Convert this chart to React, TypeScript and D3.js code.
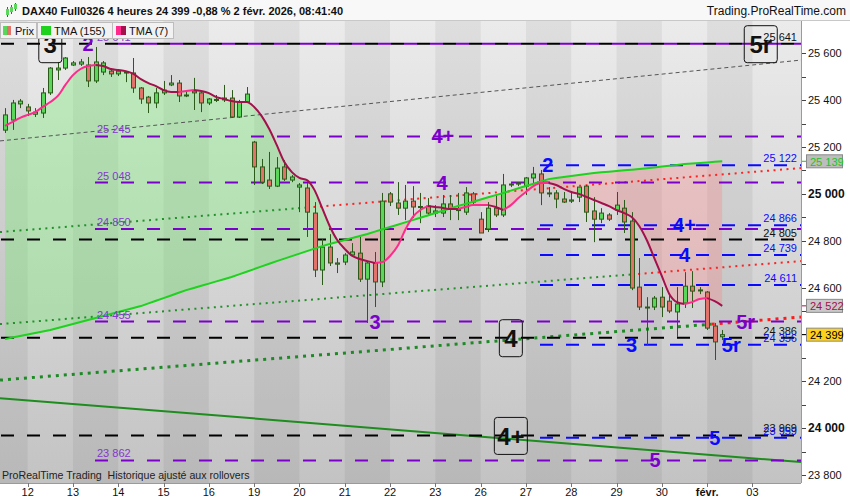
import React from 'react'
import * as d3 from 'd3'

const W = 850
const H = 500
const plotRight = 801
const plotTop = 21
const plotBottom = 483

const dayLabels = ['12', '13', '14', '15', '16', '19', '20', '21', '22', '23', '26', '27', '28', '29', '30', 'févr.', '03']

// 4h candles, 6 per day
const opens = [
    25272, 25315, 25384, 25371, 25340, 25345, 25431, 25529, 25537, 25550, 25554, 25550, 25482, 25520, 25524, 25512,
    25520, 25516, 25452, 25413, 25388, 25431, 25465, 25473, 25420, 25439, 25431, 25388, 25401, 25401, 25409, 25328,
    25392, 25221, 25115, 25059, 25033, 25115, 25059, 25029, 25025, 24918, 24675, 24773, 24700, 24709, 24739, 24747,
    24636, 24705, 24624, 25000, 24961, 24939, 24969, 24944, 24948, 24918, 24918, 24957, 24931, 24922, 25000, 24892,
    24850, 24939, 24910, 25042, 25046, 25033, 25068, 25085, 25004, 25004, 24978, 24969, 24986, 25033, 24927, 24892,
    24910, 24931, 24939, 24884, 24602, 24517, 24517, 24559, 24542, 24496, 24534, 24606, 24590, 24581, 24436, 24390,
]
const highs = [
    25366, 25401, 25405, 25384, 25366, 25452, 25541, 25563, 25584, 25567, 25576, 25584, 25627, 25567, 25537, 25533,
    25524, 25580, 25456, 25418, 25452, 25482, 25507, 25486, 25443, 25495, 25435, 25409, 25422, 25465, 25443, 25401,
    25456, 25226, 25149, 25179, 25157, 25144, 25080, 25046, 25046, 24965, 24807, 24828, 24726, 24747, 24790, 24816,
    24709, 24752, 25004, 25008, 25050, 25038, 25033, 25004, 24982, 24952, 24995, 24995, 25004, 25029, 25008, 24922,
    24965, 24995, 25085, 25050, 25050, 25072, 25115, 25102, 25029, 25016, 25008, 25004, 25029, 25038, 24986, 24939,
    24918, 25008, 24974, 24922, 24726, 24559, 24564, 24602, 24568, 24602, 24666, 24670, 24602, 24585, 24449, 24419,
]
const lows = [
    25260, 25273, 25366, 25332, 25328, 25324, 25422, 25486, 25529, 25546, 25546, 25456, 25473, 25507, 25499, 25503,
    25477, 25431, 25384, 25345, 25366, 25422, 25460, 25392, 25413, 25358, 25349, 25379, 25392, 25392, 25324, 25324,
    25392, 25038, 25042, 25021, 25029, 25055, 25050, 24922, 24816, 24645, 24611, 24692, 24662, 24696, 24735, 24624,
    24449, 24517, 24602, 24948, 24910, 24888, 24897, 24875, 24910, 24901, 24901, 24888, 24888, 24910, 24957, 24833,
    24837, 24901, 24901, 25029, 25033, 24995, 25046, 24952, 24986, 24939, 24961, 24961, 24965, 24880, 24794, 24875,
    24884, 24910, 24833, 24589, 24504, 24355, 24504, 24474, 24491, 24389, 24513, 24513, 24572, 24419, 24291, 24376,
]
const closes = [
    25337, 25388, 25396, 25354, 25349, 25431, 25537, 25537, 25580, 25559, 25563, 25482, 25563, 25559, 25512, 25524,
    25516, 25452, 25405, 25388, 25431, 25443, 25473, 25418, 25422, 25431, 25388, 25405, 25403, 25409, 25328, 25392,
    25426, 25115, 25050, 25033, 25110, 25063, 25072, 25038, 24922, 24675, 24773, 24705, 24705, 24739, 24752, 24636,
    24705, 24624, 24969, 24965, 24939, 24969, 24944, 24946, 24918, 24927, 24957, 24935, 24933, 25004, 24965, 24833,
    24939, 24910, 25038, 25040, 25042, 25068, 25085, 25004, 25002, 24978, 24965, 24974, 25029, 24922, 24892, 24918,
    24892, 24952, 24880, 24598, 24517, 24515, 24555, 24517, 24500, 24530, 24606, 24585, 24589, 24427, 24368, 24399,
]

// TMA (7), one value per candle
const tma7 = [
    25290, 25307, 25324, 25337, 25349, 25371, 25392, 25418, 25465, 25507, 25533, 25546, 25550, 25546, 25533, 25529,
    25524, 25512, 25490, 25473, 25460, 25443, 25435, 25435, 25439, 25443, 25439, 25430, 25413, 25405, 25396, 25392,
    25392, 25371, 25332, 25277, 25208, 25136, 25093, 25068, 25059, 25016, 24940, 24863, 24803, 24765, 24735, 24722,
    24713, 24705, 24709, 24735, 24777, 24846, 24901, 24931, 24948, 24944, 24940, 24935, 24935, 24944, 24952, 24952,
    24952, 24944, 24931, 24952, 24982, 25008, 25033, 25046, 25046, 25038, 25021, 25008, 25000, 24987, 24974, 24961,
    24948, 24931, 24918, 24901, 24863, 24803, 24726, 24649, 24572, 24538, 24530, 24538, 24551, 24555, 24542, 24522,
]

// TMA (155), read once per day
const tma155Idx = [0, 6, 12, 18, 24, 30, 36, 42, 48, 54, 60, 66, 72, 78, 84, 90, 95]
const tma155 = [24380, 24419, 24470, 24521, 24589, 24645, 24713, 24777, 24829, 24888, 24948, 25004, 25063, 25089, 25106, 25127, 25139]

const blackLevels = [25641, 24805, 24386, 23969]
const purpleLevels = [25641, 25245, 25048, 24850, 24455, 23862]
const blueLevels = [25122, 24866, 24739, 24611, 24356, 23959]

// trendlines: price at left edge, price at right edge
const grayTrend = [25226, 25571]
const dotTrendHigh = [24837, 25110]
const dotTrendLow = [24444, 24713]
const dotTrendThick = [24205, 24474]
const greenTrend = [24128, 23855]

const purpleWaves = [['2', 11, 25641], ['4+', 58, 25245], ['4', 57.9, 25048], ['3', 49, 24455], ['5r', 98.1, 24455], ['5', 86.1, 23862]]
const blueWaves = [['2', 71.9, 25122], ['4+', 90, 24866], ['4', 90, 24739], ['3', 83, 24356], ['5r', 96.2, 24356], ['5', 94, 23959]]
const boxWaves = [['3', 6, 25641], ['4', 67, 24386], ['4+', 67, 23969], ['5r', 100.1, 25641]]

const PURPLE = '#7c00cc'
const BLUE = '#0a0aff'
const WICK = '#2b5a1a'
const UP = '#5ad65a'
const DOWN = '#e2736b'
const PINK = '#ff2a8c'
const CRIMSON = '#a3104c'
const FONT = '"Liberation Sans", Arial, sans-serif'

const fmt = (v: number) => d3.format(',')(v).replace(/,/g, ' ')

export default function App() {
    const n = opens.length
    const x = d3.scaleLinear().domain([0, 95]).range([5, 722.25])
    const y = d3.scaleLinear().domain([23800, 25600]).range([475, 53.3])
    const iLeft = x.invert(0)
    const iRight = x.invert(plotRight)
    const idx = d3.range(n)
    const lastClose = closes[n - 1]

    const slow = d3.scaleLinear().domain(tma155Idx).range(tma155)
    const fillData = idx.map((i) => ({ i, a: tma7[i], b: slow(i) }))
    const aboveB = d3.area<any>().x((d) => x(d.i)).y0(plotTop).y1((d) => y(d.b))(fillData) as string
    const belowB = d3.area<any>().x((d) => x(d.i)).y0(plotBottom).y1((d) => y(d.b))(fillData) as string
    const greenFill = d3.area<any>().x((d) => x(d.i)).y0(plotBottom).y1((d) => y(d.a))(fillData) as string
    const redFill = d3.area<any>().x((d) => x(d.i)).y0(plotTop).y1((d) => y(d.a))(fillData) as string
    const slowLine = d3.line<any>().x((d) => x(d.i)).y((d) => y(d.b))(fillData) as string

    // TMA7 split into rising / falling runs
    const runs: { up: boolean; pts: number[] }[] = []
    let cur = { up: tma7[1] >= tma7[0], pts: [0] }
    for (let i = 1; i < n; i++) {
        const up = tma7[i] > tma7[i - 1] ? true : tma7[i] < tma7[i - 1] ? false : cur.up
        if (up === cur.up) cur.pts.push(i)
        else {
            runs.push(cur)
            cur = { up, pts: [i - 1, i] }
        }
    }
    runs.push(cur)
    const fastLine = d3.line<number>().x((i) => x(i)).y((i) => y(tma7[i])).curve(d3.curveMonotoneX)

    const bounds = d3.range(-1, 18).map((k) => x(3 + 6 * k))

    const trend = (t: number[]) => ({ x1: 0, y1: y(t[0]), x2: plotRight, y2: y(t[1]) })
    const trendSplit = (t: number[], at: number) => {
        const v = d3.scaleLinear().domain([iLeft, iRight]).range(t)
        return [
            { x1: 0, y1: y(t[0]), x2: x(at), y2: y(v(at)) },
            { x1: x(at), y1: y(v(at)), x2: plotRight, y2: y(t[1]) },
        ]
    }
    const hi = trendSplit(dotTrendHigh, 40)
    const lo = trendSplit(dotTrendLow, 83)
    const th = trendSplit(dotTrendThick, 93.6)

    // the 24 400 label sits under the last-price badge
    const priceTicks = d3.range(23800, 25700, 100)

    return (
        <div>
            <style>{'body{margin:0}'}</style>
            <svg width={W} height={H} style={{ display: 'block', fontFamily: FONT }}>
                <defs>
                    <linearGradient id='bg' x1='0' y1='0' x2='0' y2='1'>
                        <stop offset='0' stopColor='#ebebeb' />
                        <stop offset='1' stopColor='#c3c3c3' />
                    </linearGradient>
                    <clipPath id='plot'>
                        <rect x={0} y={plotTop} width={plotRight} height={plotBottom - plotTop} />
                    </clipPath>
                    <clipPath id='aboveB'>
                        <path d={aboveB} />
                    </clipPath>
                    <clipPath id='belowB'>
                        <path d={belowB} />
                    </clipPath>
                </defs>

                <rect width={W} height={H} fill='#ffffff' />
                <g clipPath='url(#plot)'>
                    <rect x={0} y={plotTop} width={plotRight} height={plotBottom - plotTop} fill='url(#bg)' />
                    {bounds.slice(0, -1).map((b, k) =>
                        k % 2 === 0 ? (
                            <rect key={k} x={b} y={plotTop} width={bounds[k + 1] - b} height={plotBottom - plotTop} fill='#000' opacity={0.055} />
                        ) : null,
                    )}

                    <path d={greenFill} fill='#66ee66' opacity={0.32} clipPath='url(#aboveB)' />
                    <path d={redFill} fill='#ff8080' opacity={0.3} clipPath='url(#belowB)' />

                    {/* trendlines */}
                    <line {...trend(grayTrend)} stroke='#555' strokeWidth={1} strokeDasharray='4 3' />
                    <line {...hi[0]} stroke='#22912a' strokeWidth={2} strokeDasharray='2 4.5' />
                    <line {...hi[1]} stroke='#ff2222' strokeWidth={2} strokeDasharray='2 4.5' />
                    <line {...lo[0]} stroke='#22912a' strokeWidth={2} strokeDasharray='2 4.5' />
                    <line {...lo[1]} stroke='#ff2222' strokeWidth={2} strokeDasharray='2 4.5' />
                    <line {...th[0]} stroke='#1d8a26' strokeWidth={3} strokeDasharray='3 5' />
                    <line {...th[1]} stroke='#ff1a1a' strokeWidth={3} strokeDasharray='3 5' />
                    <line {...trend(greenTrend)} stroke='#1e8c1e' strokeWidth={2} />

                    {/* horizontal levels */}
                    {blackLevels.map((p) => (
                        <line key={'k' + p} x1={1} x2={plotRight} y1={y(p)} y2={y(p)} stroke='#000' strokeWidth={2} strokeDasharray='13 13' />
                    ))}
                    {purpleLevels.map((p) => (
                        <line key={'p' + p} x1={p === 25641 ? 118 : 95} x2={plotRight} y1={y(p)} y2={y(p)} stroke={PURPLE} strokeWidth={2} strokeDasharray='13 13' />
                    ))}
                    {blueLevels.map((p) => (
                        <line key={'b' + p} x1={540} x2={plotRight} y1={y(p)} y2={y(p)} stroke={BLUE} strokeWidth={2} strokeDasharray='13 13' />
                    ))}

                    {/* candles */}
                    {idx.map((i) => {
                        const cx = Math.round(x(i))
                        const up = closes[i] >= opens[i]
                        const top = y(Math.max(opens[i], closes[i]))
                        const bot = y(Math.min(opens[i], closes[i]))
                        return (
                            <g key={i}>
                                <line x1={cx + 0.5} x2={cx + 0.5} y1={y(highs[i])} y2={y(lows[i])} stroke={WICK} strokeWidth={1} />
                                <rect x={cx - 1.5} y={top} width={4} height={Math.max(1, bot - top)} fill={up ? UP : DOWN} stroke={WICK} strokeWidth={1} />
                            </g>
                        )
                    })}

                    <path d={slowLine} fill='none' stroke='#1ed21e' strokeWidth={2} />
                    {runs.map((r, k) => (
                        <path key={k} d={fastLine(r.pts) as string} fill='none' stroke={r.up ? PINK : CRIMSON} strokeWidth={2} />
                    ))}

                    {/* level values */}
                    {purpleLevels.map((p) => (
                        <text key={'pl' + p} x={97} y={y(p) - 3} fontSize={11} fill='#8438cc'>
                            {fmt(p)}
                        </text>
                    ))}
                    {blackLevels.map((p) => (
                        <text key={'kl' + p} x={797} y={y(p) - 3} fontSize={11} fill='#111' textAnchor='end'>
                            {fmt(p)}
                        </text>
                    ))}
                    {blueLevels.map((p) => (
                        <text key={'bl' + p} x={797} y={y(p) - 3} fontSize={11} fill={BLUE} textAnchor='end'>
                            {fmt(p)}
                        </text>
                    ))}

                    {/* wave labels */}
                    {purpleWaves.map(([t, i, p]) => (
                        <text key={'pw' + t + i} x={x(i as number)} y={y(p as number)} fontSize={20} fontWeight='bold' fill={PURPLE} textAnchor='middle' dominantBaseline='central'>
                            {t}
                        </text>
                    ))}
                    {blueWaves.map(([t, i, p]) => (
                        <text key={'bw' + t + i} x={x(i as number)} y={y(p as number)} fontSize={20} fontWeight='bold' fill={BLUE} textAnchor='middle' dominantBaseline='central'>
                            {t}
                        </text>
                    ))}
                    {boxWaves.map(([t, i, p]) => {
                        const bx = x(i as number)
                        const by = y(p as number)
                        const bw = (t as string).length > 1 ? 33 : 23
                        return (
                            <g key={'xw' + t + i}>
                                <rect x={bx - bw / 2} y={by - 18} width={bw} height={37} rx={3} fill='none' stroke='#111' strokeWidth={1} />
                                <text x={bx} y={by + 1} fontSize={24} fontWeight='bold' fill='#111' textAnchor='middle' dominantBaseline='central'>
                                    {t}
                                </text>
                            </g>
                        )
                    })}

                    <text x={2} y={479} fontSize={10.6} fill='#222'>
                        ProRealTime Trading{'\u00a0\u00a0'}Historique ajusté aux rollovers
                    </text>
                </g>

                {/* right axis */}
                <line x1={plotRight + 0.5} x2={plotRight + 0.5} y1={plotTop} y2={plotBottom} stroke='#9a9a9a' />
                {priceTicks.map((p) => (
                    <g key={'t' + p}>
                        <line x1={plotRight + 1} x2={plotRight + 5} y1={Math.round(y(p)) + 0.5} y2={Math.round(y(p)) + 0.5} stroke='#444' />
                        {p % 200 === 0 && Math.abs(y(p) - y(lastClose)) > 10 ? (
                            <text x={808} y={y(p)} dominantBaseline='central' fontSize={p % 1000 === 0 ? 12 : 11} fontWeight={p % 1000 === 0 ? 'bold' : 'normal'} fill='#111'>
                                {fmt(p)}
                            </text>
                        ) : null}
                    </g>
                ))}
                {[
                    [tma155[tma155.length - 1], '#bdbdbd', '#22c422'],
                    [tma7[n - 1], '#c9c9c9', CRIMSON],
                    [lastClose, '#ffd21a', '#000'],
                ].map(([v, bg, fg]) => (
                    <g key={'bd' + v}>
                        <line x1={plotRight + 1} x2={806} y1={y(v as number)} y2={y(v as number)} stroke={fg as string} />
                        <rect x={806.5} y={y(v as number) - 6.5} width={36} height={13} fill={bg as string} stroke='#8a8a8a' />
                        <text x={810} y={y(v as number) + 0.5} dominantBaseline='central' fontSize={11} fill={fg as string}>
                            {fmt(v as number)}
                        </text>
                    </g>
                ))}

                {/* bottom axis */}
                <line x1={0} x2={plotRight} y1={plotBottom + 0.5} y2={plotBottom + 0.5} stroke='#9a9a9a' />
                {dayLabels.map((d, k) => (
                    <g key={'d' + k}>
                        <line x1={Math.round(x(3 + 6 * k)) + 0.5} x2={Math.round(x(3 + 6 * k)) + 0.5} y1={plotBottom} y2={plotBottom + 4} stroke='#777' />
                        <text x={x(3 + 6 * k)} y={496} textAnchor='middle' fontSize={11} fontWeight={d === 'févr.' ? 'bold' : 'normal'} fill='#111'>
                            {d}
                        </text>
                    </g>
                ))}

                {/* header */}
                <rect x={0} y={0} width={W} height={plotTop} fill='#f8f8f8' />
                <line x1={0} x2={W} y1={plotTop - 0.5} y2={plotTop - 0.5} stroke='#c8c8c8' />
                <line x1={7.5} x2={7.5} y1={7} y2={17} stroke='#2b7a1a' />
                <rect x={6} y={9} width={3} height={6} fill={UP} />
                <line x1={11.5} x2={11.5} y1={5} y2={14} stroke='#2b7a1a' />
                <rect x={10} y={7} width={3} height={5} fill={UP} />
                <line x1={15.5} x2={15.5} y1={3} y2={11} stroke='#2b7a1a' />
                <rect x={14} y={4} width={3} height={5} fill={UP} />
                <text x={22} y={15} fontSize={11} fontWeight='bold' fill='#111'>
                    DAX40 Full0326 4 heures 24 399 -0,88 % 2 févr. 2026, 08:41:40
                </text>
                <text x={846} y={15} fontSize={12} fill='#111' textAnchor='end'>
                    Trading.ProRealTime.com
                </text>

                {/* legend */}
                <g fontSize={11} fill='#111'>
                    <rect x={0.5} y={22.5} width={36} height={16} fill='#f2f2f2' stroke='#bdbdbd' />
                    <rect x={3} y={26} width={4} height={9} fill={UP} />
                    <rect x={7} y={26} width={4} height={9} fill={DOWN} />
                    <text x={15} y={34.5}>Prix</text>
                    <rect x={37.5} y={22.5} width={75} height={16} fill='#f2f2f2' stroke='#bdbdbd' />
                    <rect x={41} y={26} width={10} height={9} fill='#1ed21e' />
                    <text x={54} y={34.5}>TMA (155)</text>
                    <rect x={112.5} y={22.5} width={61} height={16} fill='#f2f2f2' stroke='#bdbdbd' />
                    <rect x={116} y={26} width={5} height={9} fill={PINK} />
                    <rect x={121} y={26} width={5} height={9} fill={CRIMSON} />
                    <text x={129} y={34.5}>TMA (7)</text>
                </g>
            </svg>
        </div>
    )
}
